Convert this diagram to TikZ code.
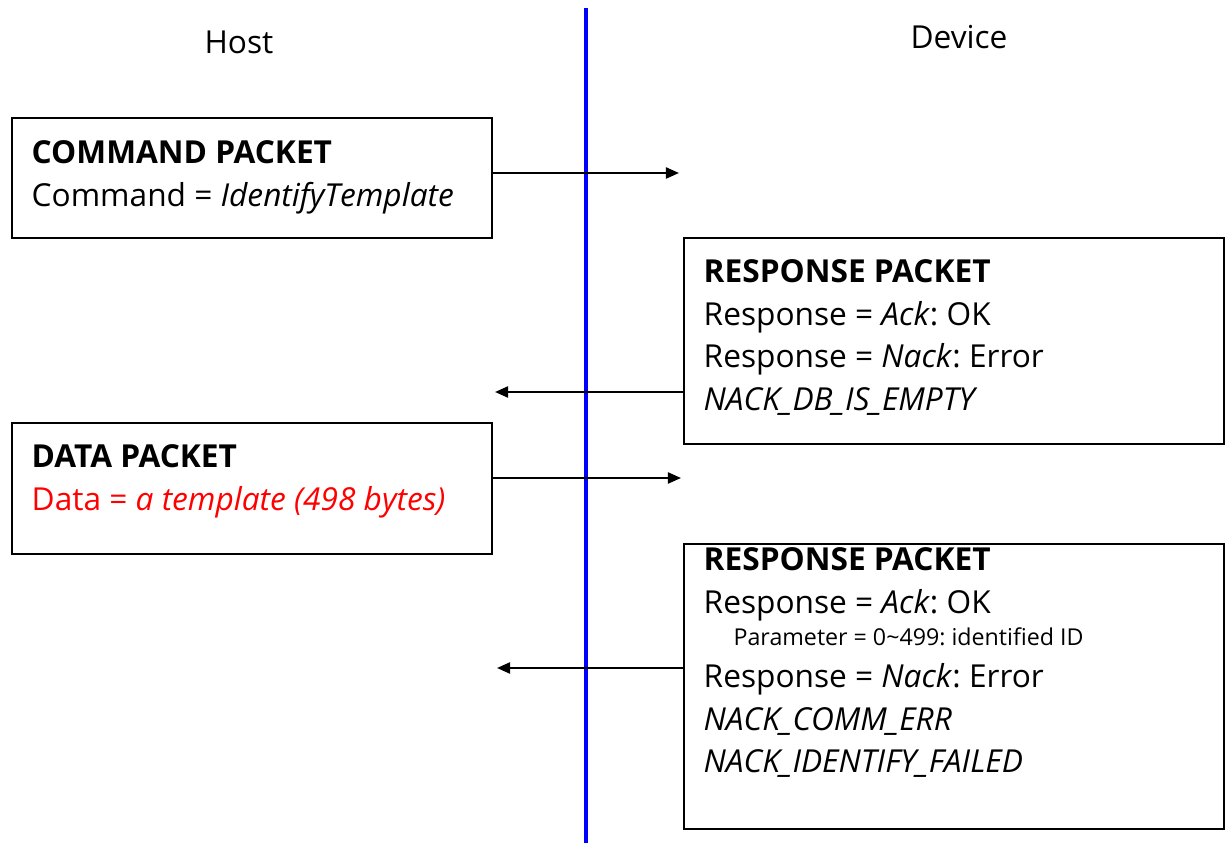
\documentclass[tikz,border=0pt]{standalone}
\usepackage{fontspec}
\setmainfont{Open Sans}
\usetikzlibrary{arrows.meta}
\frenchspacing

\tikzset{
    packet/.style={draw, line width=0.6pt, anchor=north west, inner sep=0pt},
    lines/.style={anchor=north west, align=left, inner sep=0pt},
    msg/.style={line width=0.6pt, -{Triangle[length=0.13cm, width=0.11cm]}}
}

\begin{document}
\begin{tikzpicture}[x=0.01cm, y=-0.01cm, font=\fontsize{9}{12.1}\selectfont]
            \useasboundingbox (0,0) rectangle (1230,843);
            \node (host) at (239,42) {Host};
            \node (device) at (959,37) {Device};
            \draw[blue, line width=0.9pt] (586,8) -- (586,843);

            \node[packet, minimum width=4.8cm, minimum height=1.2cm] (cmdpkt) at (11,117) {};
            \node[lines] (cmdtext) at (31,140) {\textbf{COMMAND PACKET}\\
                Command = \textit{IdentifyTemplate}};

            \node[packet, minimum width=5.4cm, minimum height=2.06cm] (ackpkt) at (683,237) {};
            \node[lines] (acktext) at (703,259) {\textbf{RESPONSE PACKET}\\
                Response = \textit{Ack}: OK\\
                Response = \textit{Nack}: Error\\
                \textit{NACK\_DB\_IS\_EMPTY}};

            \node[packet, minimum width=4.8cm, minimum height=1.31cm] (datapkt) at (11,422) {};
            \node[lines] (datatext) at (31,444) {\textbf{DATA PACKET}\\
                \textcolor{red}{Data = \textit{a template (498 bytes)}}};

            \node[packet, minimum width=5.4cm, minimum height=2.85cm] (idpkt) at (683,543) {};
            \node[lines] (idtext) at (703,547) {\textbf{RESPONSE PACKET}\\
                Response = \textit{Ack}: OK\\[-3pt]
                \hspace{8.5pt}{\fontsize{6.6}{8}\selectfont Parameter = 0\textasciitilde499: identified ID}\\
                Response = \textit{Nack}: Error\\
                \textit{NACK\_COMM\_ERR}\\
                \textit{NACK\_IDENTIFY\_FAILED}};

            % message arrows
            \coordinate (cmdend) at (679,173);
            \coordinate (ackend) at (495,392);
            \coordinate (dataend) at (681,478);
            \coordinate (idend) at (497,668);
            \draw[msg] (cmdpkt.east |- cmdend) -- (cmdend);
            \draw[msg] (ackpkt.west |- ackend) -- (ackend);
            \draw[msg] (datapkt.east |- dataend) -- (dataend);
            \draw[msg] (idpkt.west |- idend) -- (idend);
        \end{tikzpicture}
\end{document}
